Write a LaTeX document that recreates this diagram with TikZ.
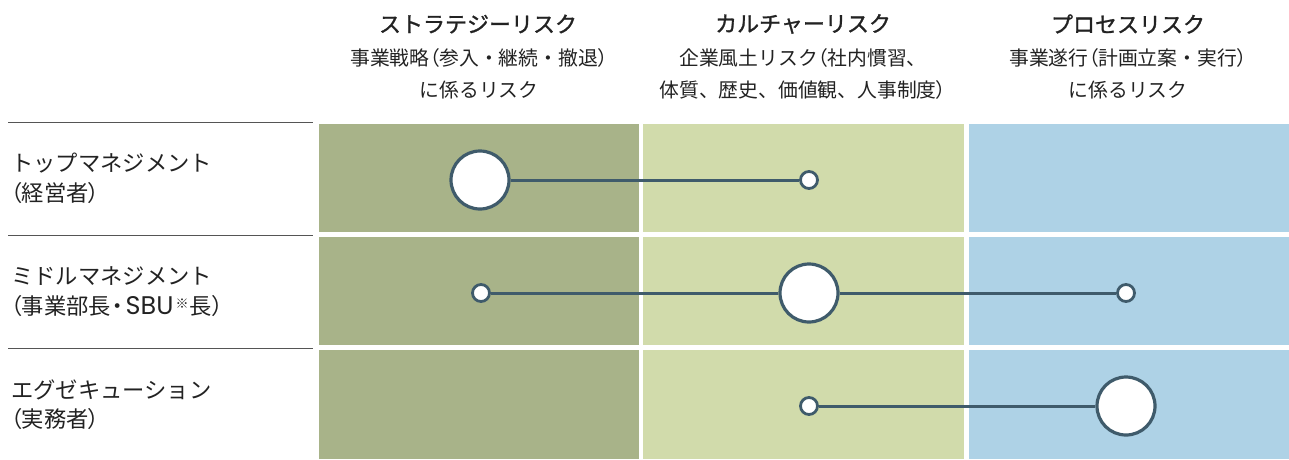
\documentclass[tikz,border=0pt]{standalone}
\usepackage{fontspec}
\setmainfont{Noto Sans CJK JP}
\newfontfamily\pfont{Noto Sans CJK JP}[RawFeature=+palt]
\newfontfamily\tfont{Noto Sans CJK JP}[FakeBold=1.2]
\newfontfamily\lfont{Poppins}
\newcommand{\LP}{{\pfont （}}
\newcommand{\RP}{{\pfont ）}}
\newcommand{\DT}{{\pfont ・}}
\definecolor{colA}{HTML}{A8B389}
\definecolor{colB}{HTML}{D1DBAB}
\definecolor{colC}{HTML}{AED2E6}
\definecolor{edge}{HTML}{3F5B6B}
\definecolor{txt}{HTML}{222222}
\definecolor{rule}{HTML}{555555}
\tikzset{
  bigc/.style={circle, draw=edge, fill=white, line width=3.2pt, minimum size=58pt, inner sep=0pt},
  smallc/.style={circle, draw=edge, fill=white, line width=2.8pt, minimum size=17pt, inner sep=0pt},
  link/.style={draw=edge, line width=3pt},
  htitle/.style={text=txt, inner sep=0pt, font=\tfont\fontsize{22}{22}\selectfont},
  hsub/.style={text=txt, inner sep=0pt, font=\fontsize{19.8}{19.8}\selectfont},
  rowlab/.style={text=txt, inner sep=0pt, anchor=west, font=\fontsize{22.3}{22.3}\selectfont},
  sep/.style={draw=rule, line width=1pt}
}
\begin{document}
\begin{tikzpicture}[x=1pt,y=-1pt]
\useasboundingbox (0,0) rectangle (1289,459);
% cells
\fill[colA] (319,124) rectangle (639,232);
\fill[colB] (643,124) rectangle (964,232);
\fill[colC] (969,124) rectangle (1289,232);
\fill[colA] (319,237) rectangle (639,345);
\fill[colB] (643,237) rectangle (964,345);
\fill[colC] (969,237) rectangle (1289,345);
\fill[colA] (319,350) rectangle (639,459);
\fill[colB] (643,350) rectangle (964,459);
\fill[colC] (969,350) rectangle (1289,459);
% separators
\draw[sep] (8,122) -- (313,122);
\draw[sep] (8,235) -- (313,235);
\draw[sep] (8,348) -- (313,348);
% headers
\node[htitle] (h1t) at (478,24) {ストラテジーリスク};
\node[hsub] (h1a) at (479,58) {事業戦略\LP 参入・継続・撤退\RP};
\node[hsub] (h1b) at (479,90) {に係るリスク};
\node[htitle] (h2t) at (803,24) {カルチャーリスク};
\node[hsub] (h2a) at (803,58) {企業風土リスク\LP 社内慣習、};
\node[hsub] (h2b) at (803,90) {体質、歴史、価値観、人事制度\RP};
\node[htitle] (h3t) at (1128,24) {プロセスリスク};
\node[hsub] (h3a) at (1128,58) {事業遂行\LP 計画立案・実行\RP};
\node[hsub] (h3b) at (1128,90) {に係るリスク};
% row labels
\node[rowlab] (r1a) at (11,163.5) {トップマネジメント};
\node[rowlab] (r1b) at (10.5,193.5) {\LP 経営者\RP};
\node[rowlab] (r2a) at (11,276.5) {ミドルマネジメント};
\node[rowlab] (r2b) at (10.5,306.5) {\LP 事業部長\hspace{1.5pt}\DT\hspace{2pt}{\lfont\fontsize{25.5}{25.5}\selectfont SBU}\hspace{2pt}\raisebox{6.5pt}{\fontsize{13}{13}\selectfont ※}\hspace{1pt}長\RP};
\node[rowlab] (r3a) at (11,389.5) {エグゼキューション};
\node[rowlab] (r3b) at (10.5,419.5) {\LP 実務者\RP};
% circles
\node[bigc] (a1) at (480,180) {};
\node[smallc] (a2) at (809,180) {};
\node[smallc] (b1) at (481,293) {};
\node[bigc] (b2) at (809,293) {};
\node[smallc] (b3) at (1126,293) {};
\node[smallc] (c1) at (809,406) {};
\node[bigc] (c2) at (1126,406) {};
% links
\draw[link] (a1) -- (a2);
\draw[link] (b1) -- (b2);
\draw[link] (b2) -- (b3);
\draw[link] (c1) -- (c2);
\end{tikzpicture}
\end{document}
